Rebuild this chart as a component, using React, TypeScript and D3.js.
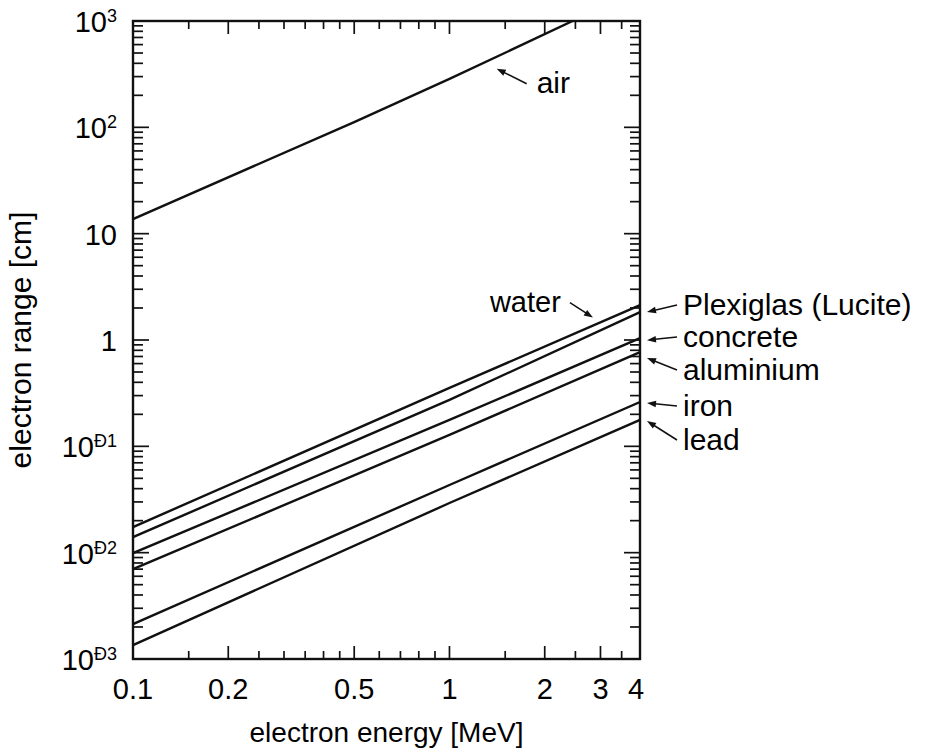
import React from "react";
import * as d3 from "d3";

// ---------- data ----------
const energies = [0.1, 1, 4]; // MeV
const airEnergies = [0.1, 0.5, 1, 2.45];
const airRange = [13.7, 112, 285, 1000]; // cm
const waterRange = [0.0174, 0.354, 2.13];
const plexiglasRange = [0.014, 0.273, 1.83];
const concreteRange = [0.0099, 0.177, 1.04];
const aluminiumRange = [0.007, 0.128, 0.77];
const ironRange = [0.00213, 0.0433, 0.261];
const leadRange = [0.00135, 0.0293, 0.177];

const xTickValues = [0.1, 0.2, 0.5, 1, 2, 3, 4];
const xTickLabels = ["0.1", "0.2", "0.5", "1", "2", "3", "4"];
const xMinorTickValues = [0.15, 0.25, 0.3, 0.35, 0.4, 0.45, 0.6, 0.7, 0.8, 0.9, 1.5, 2.5, 3.5];
const yTickValues = [1e3, 1e2, 1e1, 1, 1e-1, 1e-2, 1e-3];
const yTickBases = ["10", "10", "10", "1", "10", "10", "10"];
const yTickExponents = ["3", "2", "", "", "Ð1", "Ð2", "Ð3"];
const yMinorMultipliers = [2, 3, 4, 5, 6, 7, 8, 9];

const rightLabels = ["Plexiglas (Lucite)", "concrete", "aluminium", "iron", "lead"];

// ---------- layout ----------
const W = 928;
const H = 751;
const M = { left: 133, right: 288, top: 21, bottom: 92 };
const FONT = "'Liberation Sans', Arial, Helvetica, sans-serif";
const FS = 29;
const INK = "#111";

const x = d3.scaleLog().domain([0.1, 4]).range([M.left, W - M.right]);
const y = d3.scaleLog().domain([1e-3, 1e3]).range([H - M.bottom, M.top]);

type Series = { name: string; e: number[]; v: number[] };
const series: Series[] = [
  { name: "air", e: airEnergies, v: airRange },
  { name: "water", e: energies, v: waterRange },
  { name: "Plexiglas (Lucite)", e: energies, v: plexiglasRange },
  { name: "concrete", e: energies, v: concreteRange },
  { name: "aluminium", e: energies, v: aluminiumRange },
  { name: "iron", e: energies, v: ironRange },
  { name: "lead", e: energies, v: leadRange },
];

const lineGen = d3
  .line<[number, number]>()
  .x((d) => x(d[0]))
  .y((d) => y(d[1]));

function valueAt(s: Series, E: number) {
  const le = Math.log10(E);
  for (let i = 0; i < s.e.length - 1; i++) {
    const a = Math.log10(s.e[i]);
    const b = Math.log10(s.e[i + 1]);
    if (le <= b || i === s.e.length - 2) {
      const t = (le - a) / (b - a);
      return Math.pow(10, Math.log10(s.v[i]) + t * (Math.log10(s.v[i + 1]) - Math.log10(s.v[i])));
    }
  }
  return s.v[s.v.length - 1];
}

function Arrow({ x1, y1, x2, y2 }: { x1: number; y1: number; x2: number; y2: number }) {
  const dx = x2 - x1;
  const dy = y2 - y1;
  const L = Math.hypot(dx, dy);
  const ux = dx / L;
  const uy = dy / L;
  const hl = 9;
  const hw = 3.3;
  const bx = x2 - ux * hl;
  const by = y2 - uy * hl;
  const pts = `${x2},${y2} ${bx - uy * hw},${by + ux * hw} ${bx + uy * hw},${by - ux * hw}`;
  return (
    <g>
      <line x1={x1} y1={y1} x2={bx + ux * 1} y2={by + uy * 1} stroke={INK} strokeWidth={1.5} />
      <polygon points={pts} fill={INK} />
    </g>
  );
}

export default function App() {
  const x0 = M.left;
  const x1 = W - M.right;
  const y0 = M.top;
  const y1 = H - M.bottom;

  const yMinor: number[] = [];
  for (let d = -3; d < 3; d++) for (const m of yMinorMultipliers) yMinor.push(m * Math.pow(10, d));

  const majY = 16;
  const minY = 10;
  const majX = 13;
  const minX = 8;

  const byName = (n: string) => series.find((s) => s.name === n)!;

  // annotations
  const air = byName("air");
  const airTipE = 1.41;
  const airTip = { x: x(airTipE), y: y(valueAt(air, airTipE)) + 12 };
  const water = byName("water");
  const waterTipE = 2.84;
  const waterTip = { x: x(waterTipE), y: y(valueAt(water, waterTipE)) - 8 };

  const rightBaselines = [315, 347, 380, 416, 450];
  const rightTipDy = [0, 2, 6, 1, 1];

  return (
    <svg
      width={W}
      height={H}
      viewBox={`0 0 ${W} ${H}`}
      style={{ position: "absolute", left: 0, top: 0, background: "#fff" }}
      fontFamily={FONT}
    >
      <rect x={0} y={0} width={W} height={H} fill="#fff" />
      <defs>
        <clipPath id="plot">
          <rect x={x0} y={y0} width={x1 - x0} height={y1 - y0} />
        </clipPath>
      </defs>

      {/* ticks */}
      <g stroke={INK} strokeWidth={1.7}>
        {yTickValues.map((v) => (
          <g key={"ym" + v}>
            <line x1={x0} x2={x0 + majY} y1={y(v)} y2={y(v)} />
            <line x1={x1} x2={x1 - majY} y1={y(v)} y2={y(v)} />
          </g>
        ))}
        {yMinor.map((v) => (
          <g key={"yn" + v}>
            <line x1={x0} x2={x0 + minY} y1={y(v)} y2={y(v)} />
            <line x1={x1} x2={x1 - minY} y1={y(v)} y2={y(v)} />
          </g>
        ))}
        {xTickValues.map((v) => (
          <g key={"xm" + v}>
            <line x1={x(v)} x2={x(v)} y1={y1} y2={y1 - majX} />
            <line x1={x(v)} x2={x(v)} y1={y0} y2={y0 + majX} />
          </g>
        ))}
        {xMinorTickValues.map((v) => (
          <g key={"xn" + v}>
            <line x1={x(v)} x2={x(v)} y1={y1} y2={y1 - minX} />
            <line x1={x(v)} x2={x(v)} y1={y0} y2={y0 + minX} />
          </g>
        ))}
      </g>

      {/* curves */}
      <g clipPath="url(#plot)" fill="none" stroke={INK} strokeWidth={2.4} strokeLinejoin="round">
        {series.map((s) => (
          <path key={s.name} d={lineGen(s.e.map((e, i) => [e, s.v[i]] as [number, number]))!} />
        ))}
      </g>

      {/* frame */}
      <rect x={x0} y={y0} width={x1 - x0} height={y1 - y0} fill="none" stroke={INK} strokeWidth={2.4} />

      {/* y tick labels */}
      {yTickValues.map((v, i) => (
        <text key={"yl" + v} x={x0 - 16} y={y(v) + 11} textAnchor="end" fontSize={FS} fill="#000">
          {yTickBases[i]}
          {yTickExponents[i] ? (
            <tspan fontSize={18} dy={-10}>
              {yTickExponents[i]}
            </tspan>
          ) : null}
        </text>
      ))}

      {/* x tick labels */}
      {xTickValues.map((v, i) => (
        <text
          key={"xl" + v}
          x={x(v) - (v === 4 ? 4 : 0)}
          y={699}
          textAnchor="middle"
          fontSize={FS}
          fill="#000"
        >
          {xTickLabels[i]}
        </text>
      ))}

      {/* axis titles */}
      <text x={(x0 + x1) / 2} y={742} textAnchor="middle" fontSize={28} fill="#000">
        electron energy [MeV]
      </text>
      <text
        transform={`translate(31, ${(y0 + y1) / 2}) rotate(-90)`}
        textAnchor="middle"
        fontSize={30}
        fill="#000"
      >
        electron range [cm]
      </text>

      {/* annotations */}
      <Arrow x1={airTip.x + 30} y1={airTip.y + 15} x2={airTip.x} y2={airTip.y} />
      <text x={airTip.x + 40} y={airTip.y + 24} fontSize={30} fill="#000">
        air
      </text>

      <Arrow x1={waterTip.x - 23} y1={waterTip.y - 15} x2={waterTip.x} y2={waterTip.y} />
      <text x={waterTip.x - 103} y={waterTip.y - 6} fontSize={29} fill="#000">
        water
      </text>

      {rightLabels.map((n, i) => {
        const s = byName(n);
        const tipY = y(valueAt(s, 4)) + rightTipDy[i];
        const bl = rightBaselines[i];
        return (
          <g key={n}>
            <Arrow x1={x1 + 37} y1={bl - 10} x2={x1 + 7} y2={tipY} />
            <text x={x1 + 43} y={bl} fontSize={30} fill="#000">
              {n}
            </text>
          </g>
        );
      })}
    </svg>
  );
}
